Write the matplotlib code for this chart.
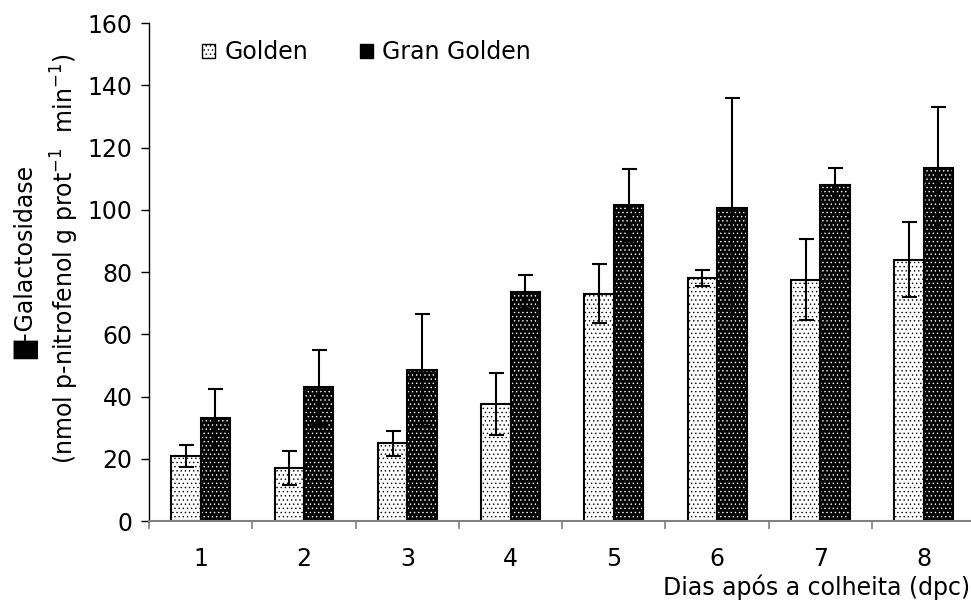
import matplotlib
matplotlib.use('Agg')
import matplotlib.pyplot as plt
import numpy as np

days = ['1', '2', '3', '4', '5', '6', '7', '8']
golden = [21, 17, 25, 37.5, 73, 78, 77.5, 84]
golden_err = [3.5, 5.5, 4, 10, 9.5, 2.5, 13, 12]
gran = [33, 43, 48.5, 73.5, 101.5, 100.5, 108, 113.5]
gran_err = [9.5, 12, 18, 5.5, 11.5, 35.5, 5.5, 19.5]

plt.rcParams['font.family'] = ['DejaVu Sans']
plt.rcParams['mathtext.fontset'] = 'dejavusans'
plt.rcParams['hatch.linewidth'] = 0.5
fontsize = 17

fig = plt.figure(figsize=(9.71, 6.04), dpi=100)
ax = fig.add_axes([0.1535, 0.1374, 0.851, 0.8245])

x = np.arange(1, len(days) + 1)
w = 0.285

# golden: white with black dots
ax.bar(x - w / 2, golden, w, color='white', edgecolor='black', hatch='....',
       linewidth=0)
ax.bar(x - w / 2, golden, w, color='none', edgecolor='black', linewidth=1.5)
# gran golden: black with white dots
ax.bar(x + w / 2, gran, w, color='black', edgecolor='white', hatch='....',
       linewidth=0)
ax.bar(x + w / 2, gran, w, color='none', edgecolor='black', linewidth=1.5)

ax.errorbar(x - w / 2, golden, yerr=golden_err, fmt='none', ecolor='black',
            elinewidth=1.5, capsize=5.4, capthick=1.5)
ax.errorbar(x + w / 2, gran, yerr=gran_err, fmt='none', ecolor='black',
            elinewidth=1.5, capsize=5.4, capthick=1.5)

# legend handles
h1 = ax.bar([0], [0], color='white', edgecolor='black', hatch='....',
            linewidth=1.0)
h2 = ax.bar([0], [0], color='black', edgecolor='black', hatch='....',
            linewidth=1.0)
leg = ax.legend([h1, h2], ['Golden', 'Gran Golden'], loc='upper left',
                bbox_to_anchor=(0.038, 1.008), ncol=2, frameon=False,
                fontsize=fontsize, handlelength=0.55, handleheight=0.55,
                handletextpad=0.4, columnspacing=2.2)

ax.set_xlim(0.5, 8.5)
ax.set_ylim(0, 160)
ax.set_yticks(np.arange(0, 161, 20))
ax.set_xticks(x)
ax.set_xticklabels(days)
ax.set_xticks(np.arange(0.5, 9, 1), minor=True)
ax.tick_params(axis='x', which='major', length=0, pad=19, labelsize=fontsize)
ax.tick_params(axis='x', which='minor', length=6, width=1.2, color='#808080')
ax.tick_params(axis='y', length=6, width=1.0, pad=6, labelsize=fontsize)

for s in ['top', 'right']:
    ax.spines[s].set_visible(False)
ax.spines['left'].set_linewidth(1.0)
ax.spines['bottom'].set_color('#808080')
ax.spines['bottom'].set_linewidth(1.5)

fig.text(0.028, 0.565, '\u2588-Galactosidase', rotation=90, ha='center',
         va='center', fontsize=fontsize)
fig.text(0.067, 0.572, '(nmol p-nitrofenol g prot$^{-1}$  min$^{-1}$)',
         rotation=90, ha='center', va='center', fontsize=fontsize)
fig.text(0.999, 0.006, 'Dias após a colheita (dpc)', ha='right',
         va='bottom', fontsize=fontsize)

plt.savefig('out.png', dpi=100)
